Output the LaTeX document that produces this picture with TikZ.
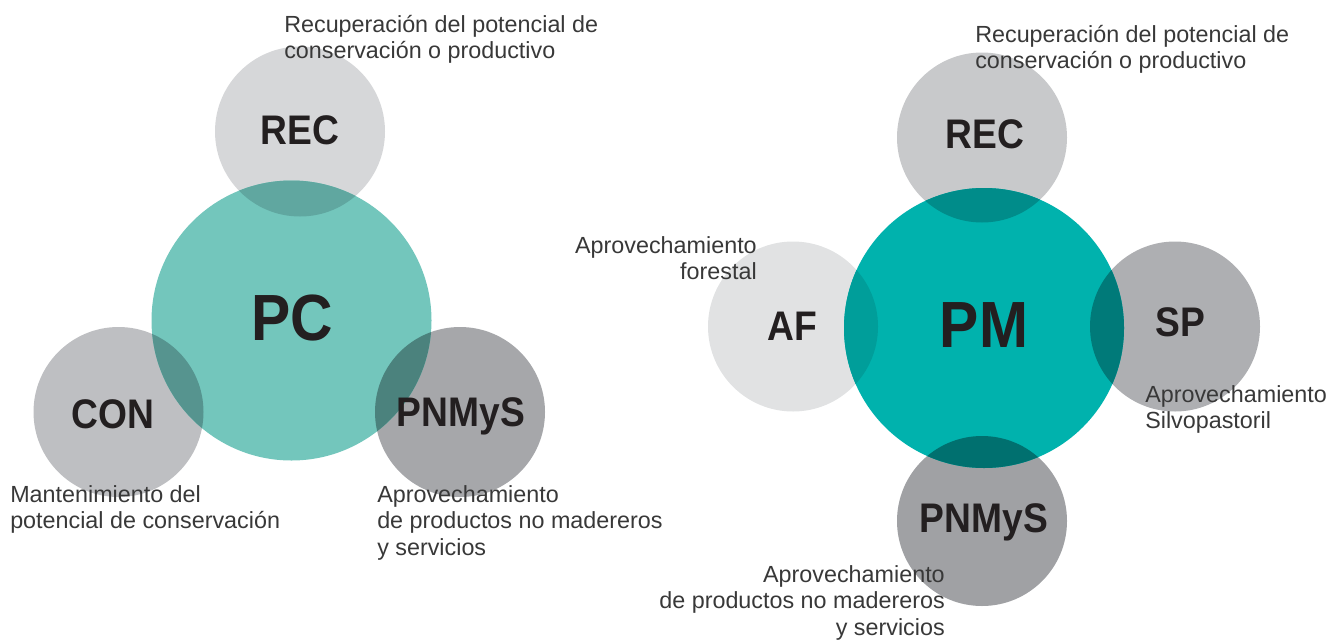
\documentclass[tikz,border=0pt]{standalone}
\usepackage{fontspec}
\setmainfont{Liberation Sans}
\newfontfamily\abbrfont[FakeStretch=0.9]{Liberation Sans}
\definecolor{pcteal}{HTML}{73C6BC}
\definecolor{pmteal}{HTML}{00B2AD}
\definecolor{lrec}{HTML}{D6D7D9}
\definecolor{lcon}{HTML}{BEBFC2}
\definecolor{lpnm}{HTML}{A6A7AA}
\definecolor{rrec}{HTML}{C8C9CB}
\definecolor{raf}{HTML}{E1E2E3}
\definecolor{rsp}{HTML}{AEAFB2}
\definecolor{rpnm}{HTML}{A0A1A4}
\definecolor{olrec}{HTML}{60A7A0}
\definecolor{olcon}{HTML}{56948F}
\definecolor{olpnm}{HTML}{4B827D}
\definecolor{orrec}{HTML}{008C8A}
\definecolor{oraf}{HTML}{009E9A}
\definecolor{orsp}{HTML}{007A79}
\definecolor{orpnm}{HTML}{00706F}
\definecolor{txt}{HTML}{383838}
\definecolor{abbr}{HTML}{231F20}
\begin{document}
\begin{tikzpicture}[x=0.75pt,y=-0.75pt,
  small/.style={circle,inner sep=0pt,minimum size=127.5pt,draw=none},
  big/.style={circle,inner sep=0pt,minimum size=210pt,draw=none},
  abbrS/.style={anchor=base,inner sep=0pt,text=abbr,font=\abbrfont\bfseries\fontsize{31}{36}\selectfont},
  abbrB/.style={anchor=base,inner sep=0pt,text=abbr,font=\abbrfont\bfseries\fontsize{49}{56}\selectfont},
  lbl/.style={inner sep=0pt,text=txt,font=\fontsize{17.5}{19.9}\selectfont}]
\useasboundingbox (0,0) rectangle (1334,639);
% left diagram
\node[small,fill=lrec] (lREC) at (300,131.5) {};
\node[small,fill=lcon] (lCON) at (118.5,412) {};
\node[small,fill=lpnm] (lPNM) at (460,412) {};
\node[big,fill=pcteal] (PC) at (291.5,320.5) {};
\begin{scope}
  \clip (PC.center) circle[radius=105pt];
  \fill[olrec] (lREC.center) circle[radius=63.75pt];
  \fill[olcon] (lCON.center) circle[radius=63.75pt];
  \fill[olpnm] (lPNM.center) circle[radius=63.75pt];
\end{scope}
% right diagram
\node[small,fill=rrec] (rREC) at (982,137.5) {};
\node[small,fill=raf] (AF) at (793,326.5) {};
\node[small,fill=rsp] (SP) at (1175,326.5) {};
\node[small,fill=rpnm] (rPNM) at (982,521) {};
\node[big,fill=pmteal] (PM) at (984,328) {};
\begin{scope}
  \clip (PM.center) circle[radius=105pt];
  \fill[orrec] (rREC.center) circle[radius=63.75pt];
  \fill[oraf] (AF.center) circle[radius=63.75pt];
  \fill[orsp] (SP.center) circle[radius=63.75pt];
  \fill[orpnm] (rPNM.center) circle[radius=63.75pt];
\end{scope}
% abbreviations
\node[abbrS] (tlREC) at (300,144) {REC};
\node[abbrS] (tlCON) at (113,428) {CON};
\node[abbrS] (tlPNM) at (461,426) {PNMyS};
\node[abbrB] (tPC) at (292,340) {PC};
\node[abbrS] (trREC) at (985,148) {REC};
\node[abbrS] (tAF) at (792,340) {AF};
\node[abbrS] (tSP) at (1180,336) {SP};
\node[abbrS] (trPNM) at (984,532) {PNMyS};
\node[abbrB] (tPM) at (984,347) {PM};
% labels
\node[lbl,anchor=base west] (llREC) at (284,32) {\begin{tabular}[t]{@{}l@{}}Recuperación del potencial de\\conservación o productivo\end{tabular}};
\node[lbl,anchor=base west] (llCON) at (10,502) {\begin{tabular}[t]{@{}l@{}}Mantenimiento del\\potencial de conservación\end{tabular}};
\node[lbl,anchor=base west] (llPNM) at (377,502) {\begin{tabular}[t]{@{}l@{}}Aprovechamiento\\de productos no madereros\\y servicios\end{tabular}};
\node[lbl,anchor=base west] (lrREC) at (975,42) {\begin{tabular}[t]{@{}l@{}}Recuperación del potencial de\\conservación o productivo\end{tabular}};
\node[lbl,anchor=base east] (lAF) at (757,253) {\begin{tabular}[t]{@{}r@{}}Aprovechamiento\\forestal\end{tabular}};
\node[lbl,anchor=base west] (lSP) at (1145,402) {\begin{tabular}[t]{@{}l@{}}Aprovechamiento\\Silvopastoril\end{tabular}};
\node[lbl,anchor=base east] (lrPNM) at (945,582) {\begin{tabular}[t]{@{}r@{}}Aprovechamiento\\de productos no madereros\\y servicios\end{tabular}};
\end{tikzpicture}
\end{document}
